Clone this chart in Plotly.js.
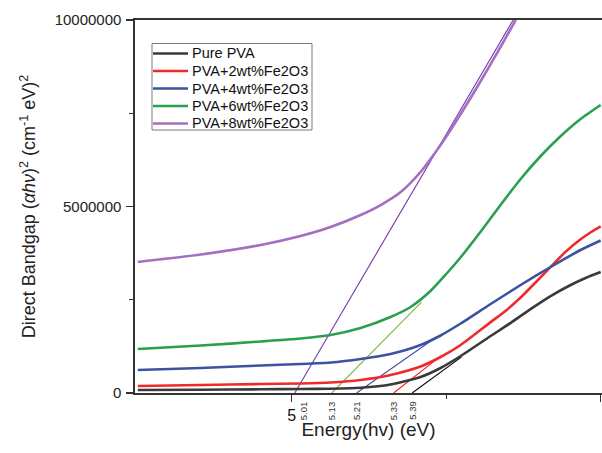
<!DOCTYPE html>
<html>
<head>
<meta charset="utf-8">
<script src="https://cdn.plot.ly/plotly-3.0.1.min.js"></script>
<style>
  html, body { margin: 0; padding: 0; background: #fff; }
  #chart { width: 602px; height: 453px; }
</style>
</head>
<body>
<div id="chart"></div>
<script>
// Tauc plot: (αhν)² versus photon energy for PVA films with Fe2O3 loading
const seriesNames = ['Pure PVA', 'PVA+2wt%Fe2O3', 'PVA+4wt%Fe2O3', 'PVA+6wt%Fe2O3', 'PVA+8wt%Fe2O3'];
const seriesColors = ['#3a3a3a', '#ee2b2b', '#3d52a3', '#2a9f50', '#a36fbf'];

const energyPure = [4.502, 4.706, 4.900, 5.029, 5.126, 5.223, 5.320, 5.417, 5.482, 5.547, 5.644, 5.709, 5.773, 5.838, 5.903, 5.951, 6.000];
const valuesPure = [0.080e6, 0.086e6, 0.099e6, 0.107e6, 0.115e6, 0.142e6, 0.228e6, 0.429e6, 0.670e6, 0.992e6, 1.528e6, 1.880e6, 2.250e6, 2.600e6, 2.895e6, 3.083e6, 3.244e6];

const energy2 = [4.502, 4.706, 4.900, 5.029, 5.126, 5.223, 5.320, 5.417, 5.482, 5.547, 5.644, 5.692, 5.741, 5.790, 5.838, 5.887, 5.935, 5.968, 6.000];
const values2 = [0.188e6, 0.214e6, 0.241e6, 0.255e6, 0.282e6, 0.349e6, 0.483e6, 0.710e6, 0.965e6, 1.287e6, 1.900e6, 2.200e6, 2.560e6, 2.970e6, 3.380e6, 3.790e6, 4.120e6, 4.310e6, 4.470e6];

const energy4 = [4.502, 4.706, 4.900, 5.029, 5.126, 5.223, 5.320, 5.417, 5.482, 5.547, 5.644, 5.741, 5.838, 5.935, 6.000];
const values4 = [0.617e6, 0.670e6, 0.737e6, 0.777e6, 0.818e6, 0.912e6, 1.046e6, 1.287e6, 1.542e6, 1.863e6, 2.386e6, 2.895e6, 3.378e6, 3.834e6, 4.089e6];

const energy6 = [4.502, 4.706, 4.900, 5.029, 5.126, 5.223, 5.320, 5.385, 5.450, 5.498, 5.547, 5.612, 5.676, 5.741, 5.806, 5.871, 5.935, 6.000];
const values6 = [1.180e6, 1.273e6, 1.381e6, 1.461e6, 1.555e6, 1.743e6, 2.038e6, 2.306e6, 2.740e6, 3.170e6, 3.640e6, 4.330e6, 5.040e6, 5.737e6, 6.354e6, 6.890e6, 7.346e6, 7.721e6];

const energy8 = [4.502, 4.706, 4.900, 5.029, 5.126, 5.223, 5.288, 5.353, 5.417, 5.482, 5.547, 5.612, 5.676, 5.725];
const values8 = [3.512e6, 3.713e6, 3.968e6, 4.209e6, 4.450e6, 4.772e6, 5.040e6, 5.389e6, 5.925e6, 6.649e6, 7.480e6, 8.365e6, 9.276e6, 10.0e6];

// Linear fits extrapolated to the energy axis (band gap intercepts, eV)
const gapIntercepts = [5.39, 5.33, 5.21, 5.13, 5.01];
const gapSlopes = [6.05e6, 6.5e6, 5.8e6, 8.4e6, 14.15e6];   // per eV
const fitEnds = [5.55, 5.47, 5.47, 5.42, 5.717];
const fitColors = ['#000000', '#f21c1c', '#4646ad', '#7ab648', '#7437ad'];
const gapLabels = ['5.39', '5.33', '5.21', '5.13', '5.01'];
const gapLabelShift = [0, 0, 0, 0, 9];

// axis ticks
const xTickVals = [5, 6];
const xTickText = ['5', '6'];
const yTickVals = [0, 5000000, 10000000];
const yTickText = ['0', '5000000', '10000000'];

const curveX = [energyPure, energy2, energy4, energy6, energy8];
const curveY = [valuesPure, values2, values4, values6, values8];

const traces = [];
// fit lines first so the curves sit on top
for (let i = 0; i < gapIntercepts.length; i++) {
  const x0 = gapIntercepts[i], x1 = fitEnds[i];
  traces.push({
    x: [x0, x1],
    y: [0, gapSlopes[i] * (x1 - x0)],
    mode: 'lines', type: 'scatter', showlegend: false, hoverinfo: 'skip',
    line: { color: fitColors[i], width: 1.1 }
  });
}
for (let i = 0; i < seriesNames.length; i++) {
  traces.push({
    x: curveX[i], y: curveY[i], name: seriesNames[i],
    mode: 'lines', type: 'scatter', showlegend: false,
    line: { color: seriesColors[i], width: 2.6, shape: 'spline', smoothing: 0.6 }
  });
}

// plot-area pixel geometry used for the hand-built legend box
const W = 602, H = 453, L = 135, R = 0, T = 20, B = 60;
const pw = W - L - R, ph = H - T - B;
const px = v => (v - L) / pw;
const py = v => (H - B - v) / ph;

const shapes = [{
  type: 'rect', xref: 'paper', yref: 'paper',
  x0: px(152), x1: px(312), y0: py(130), y1: py(43.5),
  line: { color: '#7a7a7a', width: 1 }, fillcolor: 'rgba(255,255,255,0)'
}];
const annotations = [];
const rowY = [53.5, 71, 88.5, 106, 123.5];
for (let i = 0; i < seriesNames.length; i++) {
  shapes.push({
    type: 'line', xref: 'paper', yref: 'paper',
    x0: px(153), x1: px(188), y0: py(rowY[i]), y1: py(rowY[i]),
    line: { color: seriesColors[i], width: 2.4 }
  });
  annotations.push({
    xref: 'paper', yref: 'paper', x: px(190), y: py(rowY[i]),
    xanchor: 'left', yanchor: 'middle', showarrow: false,
    text: seriesNames[i],
    font: { family: 'Liberation Sans, Arial, sans-serif', size: 14.5, color: '#111' }
  });
}
for (let i = 0; i < gapLabels.length; i++) {
  annotations.push({
    xref: 'x', yref: 'y', x: gapIntercepts[i], y: 0,
    xanchor: 'center', yanchor: 'top', yshift: -6, xshift: gapLabelShift[i],
    textangle: -90, showarrow: false, text: gapLabels[i],
    font: { family: 'Liberation Sans, Arial, sans-serif', size: 9.5, color: '#333' }
  });
}

const layout = {
  width: W, height: H,
  margin: { l: L, r: R, t: T, b: B, pad: 0 },
  paper_bgcolor: '#fff', plot_bgcolor: '#fff',
  showlegend: false,
  xaxis: {
    range: [4.493, 4.493 + pw / 309],
    tickmode: 'array', tickvals: xTickVals, ticktext: xTickText,
    ticks: 'outside', ticklen: 7, tickwidth: 1.3, tickcolor: '#333',
    minor: { tickmode: 'array', tickvals: [5.5], ticks: 'outside', ticklen: 4, tickwidth: 1.3, tickcolor: '#333' },
    showline: true, linecolor: '#333', linewidth: 1.6, mirror: true,
    showgrid: false, zeroline: false,
    tickfont: { family: 'Liberation Sans, Arial, sans-serif', size: 16, color: '#111' },
    title: { text: 'Energy(hv) (eV)', standoff: 0,
             font: { family: 'Liberation Sans, Arial, sans-serif', size: 19, color: '#222' } }
  },
  yaxis: {
    range: [0, 10000000],
    tickmode: 'array', tickvals: yTickVals, ticktext: yTickText,
    ticks: 'outside', ticklen: 7, tickwidth: 1.3, tickcolor: '#333',
    ticklabelstandoff: 2,
    minor: { tickmode: 'array', tickvals: [2500000, 7500000], ticks: 'outside', ticklen: 4, tickwidth: 1.3, tickcolor: '#333' },
    showline: true, linecolor: '#333', linewidth: 1.6,
    showgrid: false, zeroline: false,
    tickfont: { family: 'Liberation Sans, Arial, sans-serif', size: 15, color: '#222' },
    title: { text: 'Direct Bandgap (<i>αhν</i>)<sup>2</sup> (cm<sup>-1</sup> eV)<sup>2</sup>', standoff: 14,
             font: { family: 'Liberation Sans, Arial, sans-serif', size: 18, color: '#222' } }
  },
  shapes: shapes,
  annotations: annotations
};

Plotly.newPlot('chart', traces, layout, { displayModeBar: false, staticPlot: true });
</script>
</body>
</html>
